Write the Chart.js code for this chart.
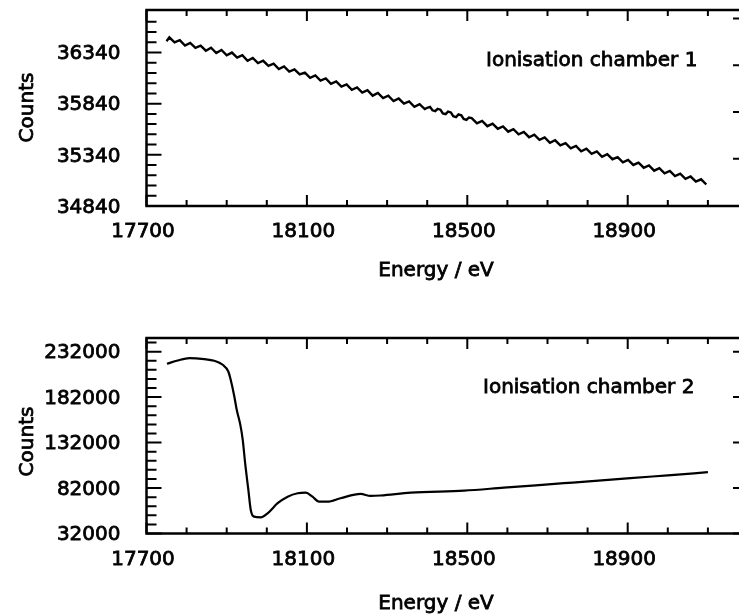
<!DOCTYPE html>
<html><head><meta charset="utf-8">
<script src="https://cdn.jsdelivr.net/npm/chart.js@4.4.1/dist/chart.umd.min.js"></script>
<style>
html,body{margin:0;padding:0;background:#fff;overflow:hidden;width:739px;height:616px;}
#c1{position:absolute;left:0;top:0;}
#c2{position:absolute;left:0;top:300px;}
</style></head><body>
<canvas id="c1" width="760" height="300"></canvas>
<canvas id="c2" width="760" height="316"></canvas>
<script>
const FONT = "'DejaVu Sans', sans-serif";

// ---- Panel 1: Ionisation chamber 1 ----
const ch1Energy = [17750,
 17757,17770,17783,17796,17809,17822,17835,17848,17861,17874,
 17887,17900,17913,17926,17939,17952,17965,17978,17991,18004,
 18017,18030,18043,18056,18069,18082,18095,18108,18121,18134,
 18147,18160,18173,18186,18199,18212,18225,18238,18251,18264,
 18277,18290,18303,18316,18329,18342,18355,18368,18381,18394,18400,
 18407,18413,18420,18426,18433,18439,18446,18452,18459,18465,18472,18478,18485,18491,18498,18504,18511,18524,
 18537,18550,18563,18576,18589,18602,18615,18628,18641,18654,
 18667,18680,18693,18706,18719,18732,18745,18758,18771,18784,
 18797,18810,18823,18836,18849,18862,18875,18888,18901,18914,
 18927,18940,18953,18966,18979,18992,19005,19018,19031,19044,
 19057,19070,19083,19096];
const ch1Counts = [36450,
 36488,36439,36461,36408,36434,36385,36406,36357,36387,36334,
 36364,36312,36339,36290,36313,36259,36286,36236,36259,36210,
 36231,36178,36203,36154,36174,36125,36144,36092,36115,36066,
 36086,36034,36057,36007,36028,35976,35998,35949,35971,35918,
 35944,35894,35917,35865,35890,35840,35862,35810,35835,35787,35800,
 35808,35775,35767,35790,35781,35745,35737,35762,35754,35718,35709,35735,35726,35690,35682,35705,35699,35647,
 35672,35620,35645,35595,35618,35566,35590,35541,35563,35512,
 35536,35486,35509,35457,35482,35432,35454,35404,35427,35375,
 35400,35350,35373,35321,35346,35297,35318,35266,35291,35241,
 35264,35214,35237,35185,35210,35160,35182,35132,35155,35105,
 35128,35078,35101,35050];

// ---- Panel 2: Ionisation chamber 2 ----
const ch2Energy = [17751,17778,17807,17844,17869,17890,17904,17910,17919,17925,
 17934,17940,17946,17954,17960,17968,17985,18002,18027,18052,
 18077,18097,18114,18130,18151,18184,18234,18259,18284,18359,
 18492,18591,18741,18907,19000,19100];
const ch2Counts = [218700,222300,224900,223800,222000,217600,210200,201000,182700,168000,
 151500,135000,109300,79900,57900,50500,49800,54200,65300,72500,
 76300,76900,72500,67000,67000,70800,75500,73300,73800,76900,
 79100,82400,87300,92800,96000,99400];

// ---- Axes ----
const xTickValues = [17700, 18100, 18500, 18900];
const xTickLabels = ['17700', '18100', '18500', '18900'];
const xMinorValues = [17800,17900,18000,18200,18300,18400,18600,18700,18800,19000,19100];

const y1TickValues = [34840, 35340, 35840, 36340];
const y1TickLabels = ['34840', '35340', '35840', '36340'];
const y1MinorValues = [34940,35040,35140,35240,35440,35540,35640,35740,35940,36040,36140,36240,36440,36540,36640];
const y1RightValues = [35301, 35759, 36215, 36673];

const y2TickValues = [32000, 82000, 132000, 182000, 232000];
const y2TickLabels = ['32000', '82000', '132000', '182000', '232000'];
const y2MinorValues = [42000,52000,62000,72000,92000,102000,112000,122000,142000,152000,162000,172000,192000,202000,212000,222000,242000];

function text(ctx, s, x, y) {
  ctx.fillText(s, x, y);
  ctx.strokeText(s, x, y);
}

function makeFramePlugin(cfg) {
  return {
    id: 'frameTicks',
    afterDraw(chart) {
      const {ctx, chartArea: a, scales: {x, y}} = chart;
      ctx.save();
      ctx.strokeStyle = '#000';
      ctx.lineWidth = 2.5;
      ctx.strokeRect(a.left, a.top, a.right - a.left, a.bottom - a.top);
      ctx.lineWidth = 2;
      ctx.beginPath();
      const xt = (vals, len) => vals.forEach(v => {
        const p = x.getPixelForValue(v);
        ctx.moveTo(p, a.bottom); ctx.lineTo(p, a.bottom - len);
        ctx.moveTo(p, a.top); ctx.lineTo(p, a.top + len);
      });
      const ylt = (vals, len) => vals.forEach(v => {
        const p = y.getPixelForValue(v);
        ctx.moveTo(a.left, p); ctx.lineTo(a.left + len, p);
      });
      const yrt = (vals, len) => vals.forEach(v => {
        const p = y.getPixelForValue(v);
        ctx.moveTo(a.right, p); ctx.lineTo(a.right - len, p);
      });
      xt(cfg.xMajor, 11); xt(cfg.xMinor, 6);
      ylt(cfg.yMajor, 15); ylt(cfg.yMinor, 10);
      yrt(cfg.yRightMajor, 15);
      ctx.stroke();

      ctx.fillStyle = '#000';
      ctx.lineWidth = 0.8;
      ctx.font = '20px ' + FONT;
      ctx.textBaseline = 'middle';
      ctx.textAlign = 'center';
      cfg.xMajor.forEach((v, i) => text(ctx, cfg.xLabels[i], x.getPixelForValue(v) - 3.5, a.bottom + 26));
      ctx.textAlign = 'right';
      cfg.yMajor.forEach((v, i) => text(ctx, cfg.yLabels[i], a.left - 26, y.getPixelForValue(v) + 1.5));
      ctx.textBaseline = 'alphabetic';
      ctx.textAlign = 'left';
      text(ctx, cfg.label, cfg.labelX, cfg.labelY);
      ctx.textAlign = 'center';
      text(ctx, 'Energy / eV', cfg.xTitleX, cfg.xTitleY);
      ctx.translate(33, cfg.yTitleY);
      ctx.rotate(-Math.PI / 2);
      text(ctx, 'Counts', 0, 0);
      ctx.restore();
    }
  };
}

function makeChart(id, energy, counts, yMin, yMax, xH, padTop, cubic, lw, plugCfg) {
  return new Chart(document.getElementById(id), {
    type: 'line',
    data: {
      datasets: [{
        data: energy.map((e, i) => ({x: e, y: counts[i]})),
        borderColor: '#000', borderWidth: lw, pointRadius: 0, fill: false,
        tension: cubic ? 0.4 : 0, cubicInterpolationMode: cubic ? 'monotone' : 'default'
      }]
    },
    options: {
      responsive: false, animation: false, devicePixelRatio: 1,
      layout: {padding: {top: padTop, left: 0, right: 12, bottom: 0}},
      plugins: {legend: {display: false}, tooltip: {enabled: false}},
      scales: {
        x: {
          type: 'linear', min: 17700, max: 19200,
          afterFit: s => { s.height = xH; s.paddingLeft = 0; s.paddingRight = 0; },
          grid: {display: false, drawTicks: false}, border: {display: false},
          ticks: {display: false}
        },
        y: {
          type: 'linear', min: yMin, max: yMax,
          afterFit: s => { s.width = 146.5; s.paddingTop = 0; s.paddingBottom = 0; },
          grid: {display: false, drawTicks: false}, border: {display: false},
          ticks: {display: false}
        }
      }
    },
    plugins: [makeFramePlugin(plugCfg)]
  });
}

makeChart('c1', ch1Energy, ch1Counts, 34840, 36755, 94, 10, false, 2.4, {
  xMajor: xTickValues, xLabels: xTickLabels, xMinor: xMinorValues,
  yMajor: y1TickValues, yLabels: y1TickLabels, yMinor: y1MinorValues,
  yRightMajor: y1RightValues,
  label: 'Ionisation chamber 1', labelX: 486, labelY: 66,
  xTitleX: 436, xTitleY: 276, yTitleY: 107.5
});

makeChart('c2', ch2Energy, ch2Counts, 32000, 247000, 82.5, 38, true, 2.2, {
  xMajor: xTickValues, xLabels: xTickLabels, xMinor: xMinorValues,
  yMajor: y2TickValues, yLabels: y2TickLabels, yMinor: y2MinorValues,
  yRightMajor: y2TickValues,
  label: 'Ionisation chamber 2', labelX: 483, labelY: 92.7,
  xTitleX: 436, xTitleY: 309, yTitleY: 141.5
});
</script>
</body></html>
